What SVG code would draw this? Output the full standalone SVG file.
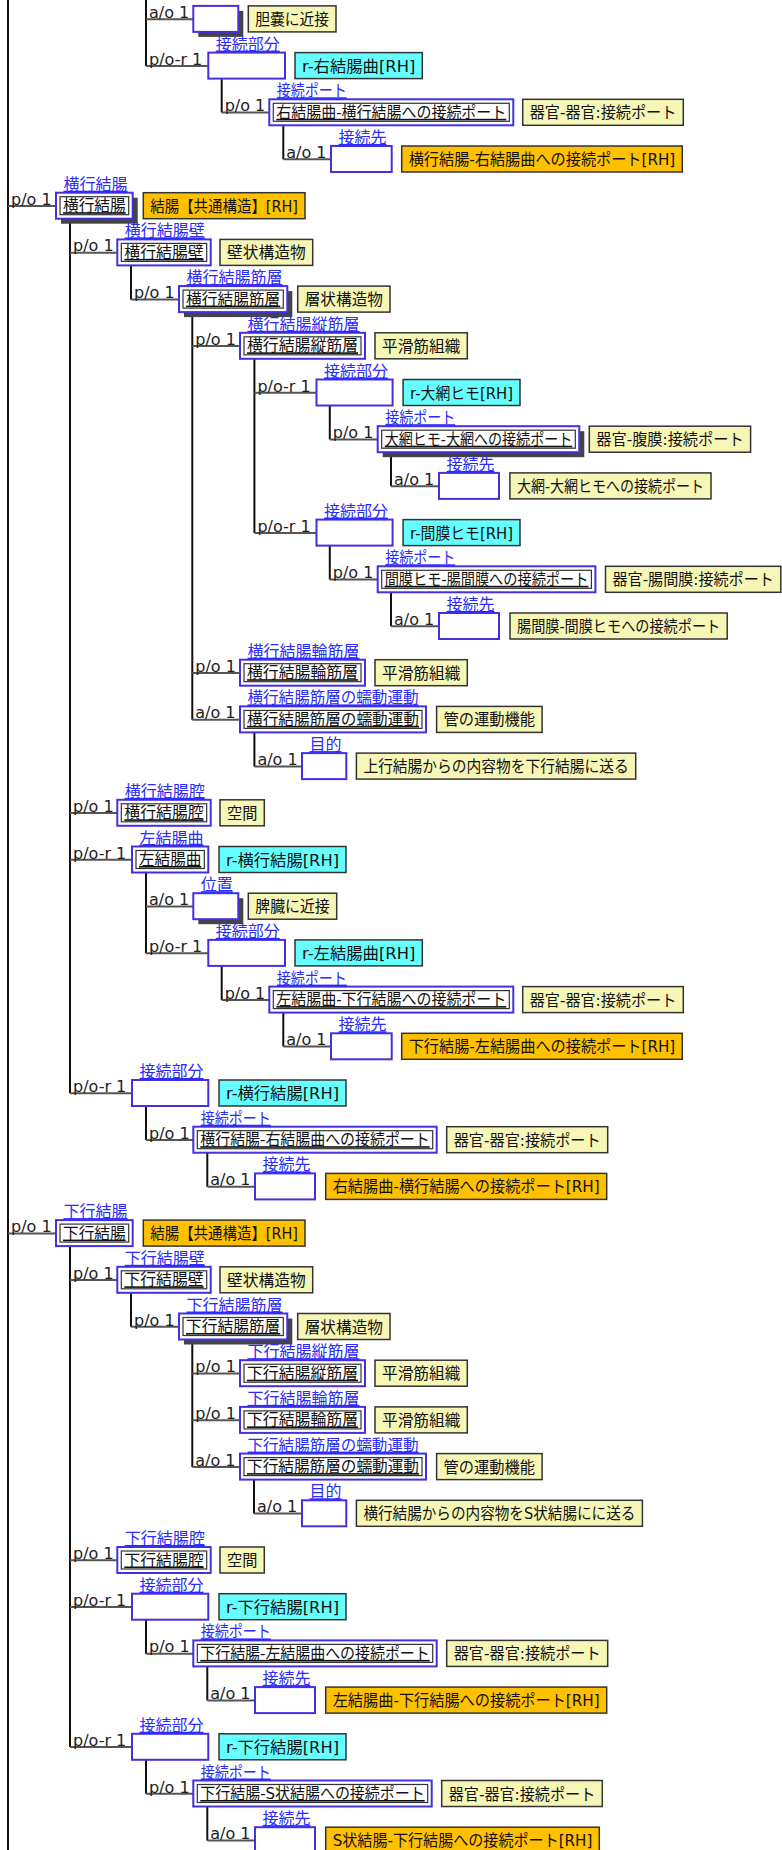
<svg xmlns="http://www.w3.org/2000/svg" width="782" height="1850" viewBox="0 0 782 1850">
<style>
text{font-family:"DejaVu Sans","Noto Sans CJK JP",sans-serif}
.rel{font-size:16px;fill:#222}
.lbl{font-size:16px;fill:#2b2bff;text-decoration:underline}
.tx{font-size:16px;fill:#111}
.ul{text-decoration:underline}
.nb{fill:#fff;stroke:#4430e0;stroke-width:2}
.ib{fill:none;stroke:#333;stroke-width:1.2}
.sh{fill:#444}
.ye{fill:#f6f6b6;stroke:#333;stroke-width:1.5}
.cy{fill:#66ffff;stroke:#333;stroke-width:1.5}
.or{fill:#ffc000;stroke:#333;stroke-width:1.5}
.vs{fill:none;stroke:#111;stroke-width:2}
.hz{fill:none;stroke:#555;stroke-width:2}
</style>
<rect width="782" height="1850" fill="#fff"/>
<g id="connectors">
<path class="vs" d="M8 0V1850 M146 0V65.9 M221.7 78.6V112.6 M283.3 125.3V159.3 M70 218.7V1093.3 M131 265.4V299.4 M192.3 312.1V719.7 M254.4 358.8V532.9 M329.8 405.5V439.5 M391 452.2V486.2 M329.8 545.6V579.6 M391 592.3V626.3 M254.4 732.4V766.4 M146 872.5V953.2 M221.7 965.9V999.9 M283.3 1012.6V1046.6 M146 1106V1140 M207.3 1152.7V1186.7 M70 1246.1V1747.1 M131 1292.8V1326.8 M192.3 1339.5V1466.9 M254 1479.6V1513.6 M146 1619.7V1653.7 M207.3 1666.4V1700.4 M146 1759.8V1793.8 M207.3 1806.5V1840.5"/>
<path class="hz" d="M146 19.2H193.3 M146 65.9H208.3 M221.7 112.6H269.3 M283.3 159.3H331 M8 206H56 M70 252.7H117.3 M131 299.4H179 M192.3 346.1H240 M254.4 392.8H316.5 M329.8 439.5H377.7 M391 486.2H439 M254.4 532.9H316.5 M329.8 579.6H377.7 M391 626.3H439 M192.3 673H240 M192.3 719.7H240 M254.4 766.4H302 M70 813.1H117.3 M70 859.8H132 M146 906.5H193.3 M146 953.2H208.3 M221.7 999.9H269.3 M283.3 1046.6H331 M70 1093.3H132 M146 1140H193.3 M207.3 1186.7H255 M8 1233.4H56 M70 1280.1H117.3 M131 1326.8H179 M192.3 1373.5H240 M192.3 1420.2H240 M192.3 1466.9H240 M254 1513.6H302 M70 1560.3H117.3 M70 1607H132 M146 1653.7H193.3 M207.3 1700.4H255 M70 1747.1H132 M146 1793.8H193.3 M207.3 1840.5H255"/>
<text class="rel" x="149" y="17.9">a/o 1</text>
<text class="rel" x="149" y="64.6">p/o-r 1</text>
<text class="rel" x="224.7" y="111.3">p/o 1</text>
<text class="rel" x="286.3" y="158">a/o 1</text>
<text class="rel" x="11" y="204.7">p/o 1</text>
<text class="rel" x="73" y="251.4">p/o 1</text>
<text class="rel" x="134" y="298.1">p/o 1</text>
<text class="rel" x="195.3" y="344.8">p/o 1</text>
<text class="rel" x="257.4" y="391.5">p/o-r 1</text>
<text class="rel" x="332.8" y="438.2">p/o 1</text>
<text class="rel" x="394" y="484.9">a/o 1</text>
<text class="rel" x="257.4" y="531.6">p/o-r 1</text>
<text class="rel" x="332.8" y="578.3">p/o 1</text>
<text class="rel" x="394" y="625">a/o 1</text>
<text class="rel" x="195.3" y="671.7">p/o 1</text>
<text class="rel" x="195.3" y="718.4">a/o 1</text>
<text class="rel" x="257.4" y="765.1">a/o 1</text>
<text class="rel" x="73" y="811.8">p/o 1</text>
<text class="rel" x="73" y="858.5">p/o-r 1</text>
<text class="rel" x="149" y="905.2">a/o 1</text>
<text class="rel" x="149" y="951.9">p/o-r 1</text>
<text class="rel" x="224.7" y="998.6">p/o 1</text>
<text class="rel" x="286.3" y="1045.3">a/o 1</text>
<text class="rel" x="73" y="1092">p/o-r 1</text>
<text class="rel" x="149" y="1138.7">p/o 1</text>
<text class="rel" x="210.3" y="1185.4">a/o 1</text>
<text class="rel" x="11" y="1232.1">p/o 1</text>
<text class="rel" x="73" y="1278.8">p/o 1</text>
<text class="rel" x="134" y="1325.5">p/o 1</text>
<text class="rel" x="195.3" y="1372.2">p/o 1</text>
<text class="rel" x="195.3" y="1418.9">p/o 1</text>
<text class="rel" x="195.3" y="1465.6">a/o 1</text>
<text class="rel" x="257" y="1512.3">a/o 1</text>
<text class="rel" x="73" y="1559">p/o 1</text>
<text class="rel" x="73" y="1605.7">p/o-r 1</text>
<text class="rel" x="149" y="1652.4">p/o 1</text>
<text class="rel" x="210.3" y="1699.1">a/o 1</text>
<text class="rel" x="73" y="1745.8">p/o-r 1</text>
<text class="rel" x="149" y="1792.5">p/o 1</text>
<text class="rel" x="210.3" y="1839.2">a/o 1</text>
</g>

<g id="n0" transform="translate(0,5.9)"><rect class="sh" x="198.3" y="5" width="45" height="26"/><rect class="nb" x="193.3" y="0" width="45" height="26"/></g>
<g id="t0" transform="translate(0,5.9)"><rect class="ye" x="248.3" y="0" width="87.7" height="26"/><text class="tx" x="255.3" y="19" textLength="73.7" lengthAdjust="spacingAndGlyphs">胆嚢に近接</text></g>

<g id="n1" transform="translate(0,52.6)"><rect class="nb" x="208.3" y="0" width="76.7" height="26"/><text class="lbl" x="215.8" y="-3">接続部分</text></g>
<g id="t1" transform="translate(0,52.6)"><rect class="cy" x="295" y="0" width="127.3" height="26"/><text class="tx" x="302" y="19" textLength="113.3" lengthAdjust="spacingAndGlyphs">r-右結腸曲[RH]</text></g>

<g id="n2" transform="translate(0,99.3)"><rect class="nb" x="269.3" y="0" width="244" height="26"/><rect class="ib" x="273.3" y="4" width="236" height="18"/><text class="lbl" x="276.8" y="-3" textLength="70" lengthAdjust="spacingAndGlyphs">接続ポート</text><text class="tx ul" x="276.3" y="18.5" textLength="230" lengthAdjust="spacingAndGlyphs">右結腸曲-横行結腸への接続ポート</text></g>
<g id="t2" transform="translate(0,99.3)"><rect class="ye" x="522.7" y="0" width="160.6" height="26"/><text class="tx" x="529.7" y="19" textLength="146.6" lengthAdjust="spacingAndGlyphs">器官-器官:接続ポート</text></g>

<g id="n3" transform="translate(0,146)"><rect class="nb" x="331" y="0" width="60.7" height="26"/><text class="lbl" x="338.5" y="-3">接続先</text></g>
<g id="t3" transform="translate(0,146)"><rect class="or" x="401.7" y="0" width="280.6" height="26"/><text class="tx" x="408.7" y="19" textLength="266.6" lengthAdjust="spacingAndGlyphs">横行結腸-右結腸曲への接続ポート[RH]</text></g>

<g id="n4" transform="translate(0,192.7)"><rect class="sh" x="61" y="5" width="76.7" height="26"/><rect class="nb" x="56" y="0" width="76.7" height="26"/><rect class="ib" x="60" y="4" width="68.7" height="18"/><text class="lbl" x="63.5" y="-3">横行結腸</text><text class="tx ul" x="63" y="18.5" textLength="62.7" lengthAdjust="spacingAndGlyphs">横行結腸</text></g>
<g id="t4" transform="translate(0,192.7)"><rect class="or" x="143.3" y="0" width="161.7" height="26"/><text class="tx" x="150.3" y="19" textLength="147.7" lengthAdjust="spacingAndGlyphs">結腸【共通構造】[RH]</text></g>

<g id="n5" transform="translate(0,239.4)"><rect class="nb" x="117.3" y="0" width="93.4" height="26"/><rect class="ib" x="121.3" y="4" width="85.4" height="18"/><text class="lbl" x="124.8" y="-3">横行結腸壁</text><text class="tx ul" x="124.3" y="18.5" textLength="79.4" lengthAdjust="spacingAndGlyphs">横行結腸壁</text></g>
<g id="t5" transform="translate(0,239.4)"><rect class="ye" x="220" y="0" width="92.7" height="26"/><text class="tx" x="227" y="19" textLength="78.7" lengthAdjust="spacingAndGlyphs">壁状構造物</text></g>

<g id="n6" transform="translate(0,286.1)"><rect class="sh" x="184" y="5" width="108.3" height="26"/><rect class="nb" x="179" y="0" width="108.3" height="26"/><rect class="ib" x="183" y="4" width="100.3" height="18"/><text class="lbl" x="186.5" y="-3">横行結腸筋層</text><text class="tx ul" x="186" y="18.5" textLength="94.3" lengthAdjust="spacingAndGlyphs">横行結腸筋層</text></g>
<g id="t6" transform="translate(0,286.1)"><rect class="ye" x="297.7" y="0" width="92.3" height="26"/><text class="tx" x="304.7" y="19" textLength="78.3" lengthAdjust="spacingAndGlyphs">層状構造物</text></g>

<g id="n7" transform="translate(0,332.8)"><rect class="nb" x="240" y="0" width="125" height="26"/><rect class="ib" x="244" y="4" width="117" height="18"/><text class="lbl" x="247.5" y="-3">横行結腸縦筋層</text><text class="tx ul" x="247" y="18.5" textLength="111" lengthAdjust="spacingAndGlyphs">横行結腸縦筋層</text></g>
<g id="t7" transform="translate(0,332.8)"><rect class="ye" x="375" y="0" width="92.3" height="26"/><text class="tx" x="382" y="19" textLength="78.3" lengthAdjust="spacingAndGlyphs">平滑筋組織</text></g>

<g id="n8" transform="translate(0,379.5)"><rect class="nb" x="316.5" y="0" width="76.1" height="26"/><text class="lbl" x="324" y="-3">接続部分</text></g>
<g id="t8" transform="translate(0,379.5)"><rect class="cy" x="403.1" y="0" width="116.9" height="26"/><text class="tx" x="410.1" y="19" textLength="102.9" lengthAdjust="spacingAndGlyphs">r-大網ヒモ[RH]</text></g>

<g id="n9" transform="translate(0,426.2)"><rect class="sh" x="382.7" y="5" width="201.6" height="26"/><rect class="nb" x="377.7" y="0" width="201.6" height="26"/><rect class="ib" x="381.7" y="4" width="193.6" height="18"/><text class="lbl" x="385.2" y="-3" textLength="70" lengthAdjust="spacingAndGlyphs">接続ポート</text><text class="tx ul" x="384.7" y="18.5" textLength="187.6" lengthAdjust="spacingAndGlyphs">大網ヒモ-大網への接続ポート</text></g>
<g id="t9" transform="translate(0,426.2)"><rect class="ye" x="589.3" y="0" width="161.3" height="26"/><text class="tx" x="596.3" y="19" textLength="147.3" lengthAdjust="spacingAndGlyphs">器官-腹膜:接続ポート</text></g>

<g id="n10" transform="translate(0,472.9)"><rect class="nb" x="439" y="0" width="60" height="26"/><text class="lbl" x="446.5" y="-3">接続先</text></g>
<g id="t10" transform="translate(0,472.9)"><rect class="ye" x="509.9" y="0" width="201.1" height="26"/><text class="tx" x="516.9" y="19" textLength="187.1" lengthAdjust="spacingAndGlyphs">大網-大網ヒモへの接続ポート</text></g>

<g id="n11" transform="translate(0,519.6)"><rect class="nb" x="316.5" y="0" width="76.1" height="26"/><text class="lbl" x="324" y="-3">接続部分</text></g>
<g id="t11" transform="translate(0,519.6)"><rect class="cy" x="403.1" y="0" width="116.9" height="26"/><text class="tx" x="410.1" y="19" textLength="102.9" lengthAdjust="spacingAndGlyphs">r-間膜ヒモ[RH]</text></g>

<g id="n12" transform="translate(0,566.3)"><rect class="nb" x="377.7" y="0" width="217.7" height="26"/><rect class="ib" x="381.7" y="4" width="209.7" height="18"/><text class="lbl" x="385.2" y="-3" textLength="70" lengthAdjust="spacingAndGlyphs">接続ポート</text><text class="tx ul" x="384.7" y="18.5" textLength="203.7" lengthAdjust="spacingAndGlyphs">間膜ヒモ-腸間膜への接続ポート</text></g>
<g id="t12" transform="translate(0,566.3)"><rect class="ye" x="605.5" y="0" width="175.3" height="26"/><text class="tx" x="612.5" y="19" textLength="161.3" lengthAdjust="spacingAndGlyphs">器官-腸間膜:接続ポート</text></g>

<g id="n13" transform="translate(0,613)"><rect class="nb" x="439" y="0" width="60" height="26"/><text class="lbl" x="446.5" y="-3">接続先</text></g>
<g id="t13" transform="translate(0,613)"><rect class="ye" x="510" y="0" width="217.2" height="26"/><text class="tx" x="517" y="19" textLength="203.2" lengthAdjust="spacingAndGlyphs">腸間膜-間膜ヒモへの接続ポート</text></g>

<g id="n14" transform="translate(0,659.7)"><rect class="nb" x="240" y="0" width="125" height="26"/><rect class="ib" x="244" y="4" width="117" height="18"/><text class="lbl" x="247.5" y="-3">横行結腸輪筋層</text><text class="tx ul" x="247" y="18.5" textLength="111" lengthAdjust="spacingAndGlyphs">横行結腸輪筋層</text></g>
<g id="t14" transform="translate(0,659.7)"><rect class="ye" x="375" y="0" width="92.3" height="26"/><text class="tx" x="382" y="19" textLength="78.3" lengthAdjust="spacingAndGlyphs">平滑筋組織</text></g>

<g id="n15" transform="translate(0,706.4)"><rect class="nb" x="240" y="0" width="186" height="26"/><rect class="ib" x="244" y="4" width="178" height="18"/><text class="lbl" x="247.5" y="-3" textLength="171" lengthAdjust="spacingAndGlyphs">横行結腸筋層の蠕動運動</text><text class="tx ul" x="247" y="18.5" textLength="172" lengthAdjust="spacingAndGlyphs">横行結腸筋層の蠕動運動</text></g>
<g id="t15" transform="translate(0,706.4)"><rect class="ye" x="436.6" y="0" width="105.5" height="26"/><text class="tx" x="443.6" y="19" textLength="91.5" lengthAdjust="spacingAndGlyphs">管の運動機能</text></g>

<g id="n16" transform="translate(0,753.1)"><rect class="nb" x="302" y="0" width="44.3" height="26"/><text class="lbl" x="309.5" y="-3">目的</text></g>
<g id="t16" transform="translate(0,753.1)"><rect class="ye" x="356.4" y="0" width="279.3" height="26"/><text class="tx" x="363.4" y="19" textLength="265.3" lengthAdjust="spacingAndGlyphs">上行結腸からの内容物を下行結腸に送る</text></g>

<g id="n17" transform="translate(0,799.8)"><rect class="nb" x="117.3" y="0" width="93.4" height="26"/><rect class="ib" x="121.3" y="4" width="85.4" height="18"/><text class="lbl" x="124.8" y="-3">横行結腸腔</text><text class="tx ul" x="124.3" y="18.5" textLength="79.4" lengthAdjust="spacingAndGlyphs">横行結腸腔</text></g>
<g id="t17" transform="translate(0,799.8)"><rect class="ye" x="220" y="0" width="44.3" height="26"/><text class="tx" x="227" y="19" textLength="30.3" lengthAdjust="spacingAndGlyphs">空間</text></g>

<g id="n18" transform="translate(0,846.5)"><rect class="nb" x="132" y="0" width="76.3" height="26"/><rect class="ib" x="136" y="4" width="68.3" height="18"/><text class="lbl" x="139.5" y="-3">左結腸曲</text><text class="tx ul" x="139" y="18.5" textLength="62.3" lengthAdjust="spacingAndGlyphs">左結腸曲</text></g>
<g id="t18" transform="translate(0,846.5)"><rect class="cy" x="219" y="0" width="127" height="26"/><text class="tx" x="226" y="19" textLength="113" lengthAdjust="spacingAndGlyphs">r-横行結腸[RH]</text></g>

<g id="n19" transform="translate(0,893.2)"><rect class="sh" x="198.3" y="5" width="45" height="26"/><rect class="nb" x="193.3" y="0" width="45" height="26"/><text class="lbl" x="200.8" y="-3">位置</text></g>
<g id="t19" transform="translate(0,893.2)"><rect class="ye" x="248.3" y="0" width="88.4" height="26"/><text class="tx" x="255.3" y="19" textLength="74.4" lengthAdjust="spacingAndGlyphs">脾臓に近接</text></g>

<g id="n20" transform="translate(0,939.9)"><rect class="nb" x="208.3" y="0" width="76.7" height="26"/><text class="lbl" x="215.8" y="-3">接続部分</text></g>
<g id="t20" transform="translate(0,939.9)"><rect class="cy" x="295" y="0" width="127.3" height="26"/><text class="tx" x="302" y="19" textLength="113.3" lengthAdjust="spacingAndGlyphs">r-左結腸曲[RH]</text></g>

<g id="n21" transform="translate(0,986.6)"><rect class="nb" x="269.3" y="0" width="244" height="26"/><rect class="ib" x="273.3" y="4" width="236" height="18"/><text class="lbl" x="276.8" y="-3" textLength="70" lengthAdjust="spacingAndGlyphs">接続ポート</text><text class="tx ul" x="276.3" y="18.5" textLength="230" lengthAdjust="spacingAndGlyphs">左結腸曲-下行結腸への接続ポート</text></g>
<g id="t21" transform="translate(0,986.6)"><rect class="ye" x="522.7" y="0" width="160.6" height="26"/><text class="tx" x="529.7" y="19" textLength="146.6" lengthAdjust="spacingAndGlyphs">器官-器官:接続ポート</text></g>

<g id="n22" transform="translate(0,1033.3)"><rect class="nb" x="331" y="0" width="60.7" height="26"/><text class="lbl" x="338.5" y="-3">接続先</text></g>
<g id="t22" transform="translate(0,1033.3)"><rect class="or" x="401.7" y="0" width="280.6" height="26"/><text class="tx" x="408.7" y="19" textLength="266.6" lengthAdjust="spacingAndGlyphs">下行結腸-左結腸曲への接続ポート[RH]</text></g>

<g id="n23" transform="translate(0,1080)"><rect class="nb" x="132" y="0" width="76.3" height="26"/><text class="lbl" x="139.5" y="-3">接続部分</text></g>
<g id="t23" transform="translate(0,1080)"><rect class="cy" x="219" y="0" width="127" height="26"/><text class="tx" x="226" y="19" textLength="113" lengthAdjust="spacingAndGlyphs">r-横行結腸[RH]</text></g>

<g id="n24" transform="translate(0,1126.7)"><rect class="nb" x="193.3" y="0" width="243.4" height="26"/><rect class="ib" x="197.3" y="4" width="235.4" height="18"/><text class="lbl" x="200.8" y="-3" textLength="70" lengthAdjust="spacingAndGlyphs">接続ポート</text><text class="tx ul" x="200.3" y="18.5" textLength="229.4" lengthAdjust="spacingAndGlyphs">横行結腸-右結腸曲への接続ポート</text></g>
<g id="t24" transform="translate(0,1126.7)"><rect class="ye" x="446.7" y="0" width="161" height="26"/><text class="tx" x="453.7" y="19" textLength="147" lengthAdjust="spacingAndGlyphs">器官-器官:接続ポート</text></g>

<g id="n25" transform="translate(0,1173.4)"><rect class="nb" x="255" y="0" width="60" height="26"/><text class="lbl" x="262.5" y="-3">接続先</text></g>
<g id="t25" transform="translate(0,1173.4)"><rect class="or" x="325.7" y="0" width="281" height="26"/><text class="tx" x="332.7" y="19" textLength="267" lengthAdjust="spacingAndGlyphs">右結腸曲-横行結腸への接続ポート[RH]</text></g>

<g id="n26" transform="translate(0,1220.1)"><rect class="nb" x="56" y="0" width="76.7" height="26"/><rect class="ib" x="60" y="4" width="68.7" height="18"/><text class="lbl" x="63.5" y="-3">下行結腸</text><text class="tx ul" x="63" y="18.5" textLength="62.7" lengthAdjust="spacingAndGlyphs">下行結腸</text></g>
<g id="t26" transform="translate(0,1220.1)"><rect class="or" x="143.3" y="0" width="161.7" height="26"/><text class="tx" x="150.3" y="19" textLength="147.7" lengthAdjust="spacingAndGlyphs">結腸【共通構造】[RH]</text></g>

<g id="n27" transform="translate(0,1266.8)"><rect class="nb" x="117.3" y="0" width="93.4" height="26"/><rect class="ib" x="121.3" y="4" width="85.4" height="18"/><text class="lbl" x="124.8" y="-3">下行結腸壁</text><text class="tx ul" x="124.3" y="18.5" textLength="79.4" lengthAdjust="spacingAndGlyphs">下行結腸壁</text></g>
<g id="t27" transform="translate(0,1266.8)"><rect class="ye" x="220" y="0" width="92.7" height="26"/><text class="tx" x="227" y="19" textLength="78.7" lengthAdjust="spacingAndGlyphs">壁状構造物</text></g>

<g id="n28" transform="translate(0,1313.5)"><rect class="sh" x="184" y="5" width="108.3" height="26"/><rect class="nb" x="179" y="0" width="108.3" height="26"/><rect class="ib" x="183" y="4" width="100.3" height="18"/><text class="lbl" x="186.5" y="-3">下行結腸筋層</text><text class="tx ul" x="186" y="18.5" textLength="94.3" lengthAdjust="spacingAndGlyphs">下行結腸筋層</text></g>
<g id="t28" transform="translate(0,1313.5)"><rect class="ye" x="297.7" y="0" width="92.3" height="26"/><text class="tx" x="304.7" y="19" textLength="78.3" lengthAdjust="spacingAndGlyphs">層状構造物</text></g>

<g id="n29" transform="translate(0,1360.2)"><rect class="nb" x="240" y="0" width="125" height="26"/><rect class="ib" x="244" y="4" width="117" height="18"/><text class="lbl" x="247.5" y="-3">下行結腸縦筋層</text><text class="tx ul" x="247" y="18.5" textLength="111" lengthAdjust="spacingAndGlyphs">下行結腸縦筋層</text></g>
<g id="t29" transform="translate(0,1360.2)"><rect class="ye" x="375" y="0" width="92.3" height="26"/><text class="tx" x="382" y="19" textLength="78.3" lengthAdjust="spacingAndGlyphs">平滑筋組織</text></g>

<g id="n30" transform="translate(0,1406.9)"><rect class="nb" x="240" y="0" width="125" height="26"/><rect class="ib" x="244" y="4" width="117" height="18"/><text class="lbl" x="247.5" y="-3">下行結腸輪筋層</text><text class="tx ul" x="247" y="18.5" textLength="111" lengthAdjust="spacingAndGlyphs">下行結腸輪筋層</text></g>
<g id="t30" transform="translate(0,1406.9)"><rect class="ye" x="375" y="0" width="92.3" height="26"/><text class="tx" x="382" y="19" textLength="78.3" lengthAdjust="spacingAndGlyphs">平滑筋組織</text></g>

<g id="n31" transform="translate(0,1453.6)"><rect class="nb" x="240" y="0" width="186" height="26"/><rect class="ib" x="244" y="4" width="178" height="18"/><text class="lbl" x="247.5" y="-3" textLength="171" lengthAdjust="spacingAndGlyphs">下行結腸筋層の蠕動運動</text><text class="tx ul" x="247" y="18.5" textLength="172" lengthAdjust="spacingAndGlyphs">下行結腸筋層の蠕動運動</text></g>
<g id="t31" transform="translate(0,1453.6)"><rect class="ye" x="436.6" y="0" width="105.5" height="26"/><text class="tx" x="443.6" y="19" textLength="91.5" lengthAdjust="spacingAndGlyphs">管の運動機能</text></g>

<g id="n32" transform="translate(0,1500.3)"><rect class="nb" x="302" y="0" width="44.3" height="26"/><text class="lbl" x="309.5" y="-3">目的</text></g>
<g id="t32" transform="translate(0,1500.3)"><rect class="ye" x="356.4" y="0" width="286" height="26"/><text class="tx" x="363.4" y="19" textLength="272" lengthAdjust="spacingAndGlyphs">横行結腸からの内容物をS状結腸にに送る</text></g>

<g id="n33" transform="translate(0,1547)"><rect class="nb" x="117.3" y="0" width="93.4" height="26"/><rect class="ib" x="121.3" y="4" width="85.4" height="18"/><text class="lbl" x="124.8" y="-3">下行結腸腔</text><text class="tx ul" x="124.3" y="18.5" textLength="79.4" lengthAdjust="spacingAndGlyphs">下行結腸腔</text></g>
<g id="t33" transform="translate(0,1547)"><rect class="ye" x="220" y="0" width="44.3" height="26"/><text class="tx" x="227" y="19" textLength="30.3" lengthAdjust="spacingAndGlyphs">空間</text></g>

<g id="n34" transform="translate(0,1593.7)"><rect class="nb" x="132" y="0" width="76.3" height="26"/><text class="lbl" x="139.5" y="-3">接続部分</text></g>
<g id="t34" transform="translate(0,1593.7)"><rect class="cy" x="219" y="0" width="127" height="26"/><text class="tx" x="226" y="19" textLength="113" lengthAdjust="spacingAndGlyphs">r-下行結腸[RH]</text></g>

<g id="n35" transform="translate(0,1640.4)"><rect class="nb" x="193.3" y="0" width="243.4" height="26"/><rect class="ib" x="197.3" y="4" width="235.4" height="18"/><text class="lbl" x="200.8" y="-3" textLength="70" lengthAdjust="spacingAndGlyphs">接続ポート</text><text class="tx ul" x="200.3" y="18.5" textLength="229.4" lengthAdjust="spacingAndGlyphs">下行結腸-左結腸曲への接続ポート</text></g>
<g id="t35" transform="translate(0,1640.4)"><rect class="ye" x="446.7" y="0" width="161" height="26"/><text class="tx" x="453.7" y="19" textLength="147" lengthAdjust="spacingAndGlyphs">器官-器官:接続ポート</text></g>

<g id="n36" transform="translate(0,1687.1)"><rect class="nb" x="255" y="0" width="60" height="26"/><text class="lbl" x="262.5" y="-3">接続先</text></g>
<g id="t36" transform="translate(0,1687.1)"><rect class="or" x="325.7" y="0" width="281" height="26"/><text class="tx" x="332.7" y="19" textLength="267" lengthAdjust="spacingAndGlyphs">左結腸曲-下行結腸への接続ポート[RH]</text></g>

<g id="n37" transform="translate(0,1733.8)"><rect class="nb" x="132" y="0" width="76.3" height="26"/><text class="lbl" x="139.5" y="-3">接続部分</text></g>
<g id="t37" transform="translate(0,1733.8)"><rect class="cy" x="219" y="0" width="127" height="26"/><text class="tx" x="226" y="19" textLength="113" lengthAdjust="spacingAndGlyphs">r-下行結腸[RH]</text></g>

<g id="n38" transform="translate(0,1780.5)"><rect class="nb" x="193.3" y="0" width="238.4" height="26"/><rect class="ib" x="197.3" y="4" width="230.4" height="18"/><text class="lbl" x="200.8" y="-3" textLength="70" lengthAdjust="spacingAndGlyphs">接続ポート</text><text class="tx ul" x="200.3" y="18.5" textLength="224.4" lengthAdjust="spacingAndGlyphs">下行結腸-S状結腸への接続ポート</text></g>
<g id="t38" transform="translate(0,1780.5)"><rect class="ye" x="441.7" y="0" width="160.6" height="26"/><text class="tx" x="448.7" y="19" textLength="146.6" lengthAdjust="spacingAndGlyphs">器官-器官:接続ポート</text></g>

<g id="n39" transform="translate(0,1827.2)"><rect class="nb" x="255" y="0" width="60" height="26"/><text class="lbl" x="262.5" y="-3">接続先</text></g>
<g id="t39" transform="translate(0,1827.2)"><rect class="or" x="325.7" y="0" width="273.6" height="26"/><text class="tx" x="332.7" y="19" textLength="259.6" lengthAdjust="spacingAndGlyphs">S状結腸-下行結腸への接続ポート[RH]</text></g>
</svg>
